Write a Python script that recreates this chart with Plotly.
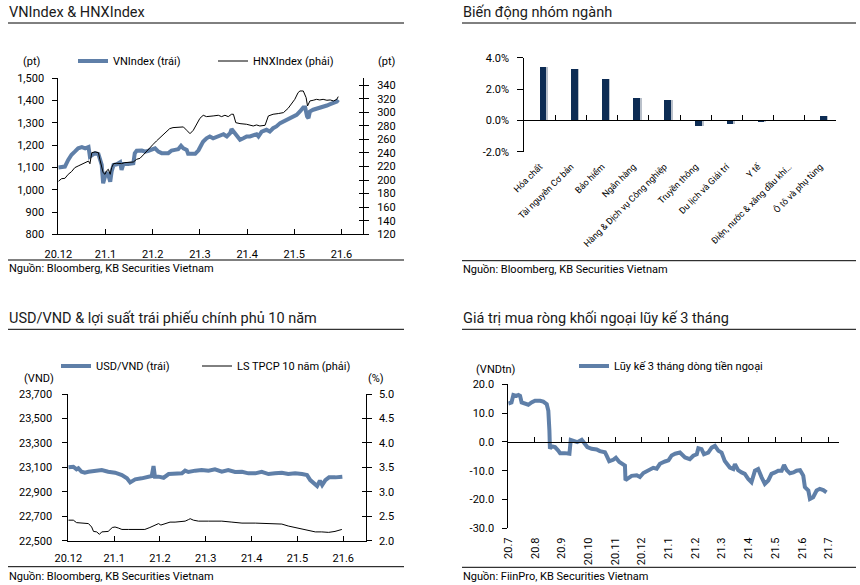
import plotly.graph_objects as go

W, H = 860, 585
FONT = "Roboto"
BLUE = "#5f7fa8"
NAVY = "#0d2c54"

# ---------------- Panel 1: VNIndex & HNXIndex ----------------
p1_month_labels = ["20.12", "21.1", "21.2", "21.3", "21.4", "21.5", "21.6"]
vn_m = [0.00, 0.14, 0.21, 0.28, 0.35, 0.42, 0.50, 0.57, 0.64, 0.67, 0.78, 0.85, 0.92, 0.95,
        0.99, 1.02, 1.06, 1.10, 1.13, 1.17, 1.24, 1.31, 1.34, 1.38, 1.48, 1.59, 1.62, 1.66,
        1.77, 1.84, 1.91, 1.98, 2.05, 2.12, 2.19, 2.33, 2.40, 2.47, 2.54, 2.60, 2.65, 2.72,
        2.75, 2.90, 2.97, 3.04, 3.07, 3.14, 3.21, 3.28, 3.36, 3.43, 3.50, 3.57, 3.64, 3.67,
        3.71, 3.78, 3.85, 3.92, 3.99, 4.06, 4.13, 4.20, 4.24, 4.31, 4.41, 4.48, 4.55, 4.62,
        4.70, 4.77, 4.84, 4.91, 4.98, 5.05, 5.12, 5.19, 5.23, 5.27, 5.30, 5.33, 5.40, 5.47,
        5.54, 5.61, 5.69, 5.76, 5.83, 5.90, 5.93]
vn_val = [1100, 1104, 1134, 1157, 1171, 1186, 1191, 1186, 1192, 1149, 1164, 1160, 1111, 1029,
          1059, 1078, 1066, 1036, 1082, 1111, 1114, 1123, 1089, 1116, 1116, 1119, 1164, 1175,
          1176, 1171, 1175, 1179, 1186, 1171, 1164, 1164, 1176, 1179, 1182, 1197, 1186, 1179,
          1161, 1161, 1177, 1205, 1216, 1231, 1239, 1231, 1239, 1246, 1249, 1239, 1254, 1272,
          1261, 1246, 1224, 1231, 1239, 1239, 1243, 1249, 1239, 1261, 1269, 1261, 1276, 1284,
          1299, 1306, 1314, 1321, 1329, 1336, 1351, 1369, 1369, 1329, 1321, 1351, 1359, 1363,
          1366, 1374, 1378, 1384, 1389, 1396, 1404]
hnx_m = [0.00, 0.07, 0.14, 0.21, 0.28, 0.35, 0.42, 0.50, 0.57, 0.64, 0.67, 0.71, 0.78, 0.85,
         0.88, 0.92, 0.95, 0.99, 1.02, 1.06, 1.10, 1.13, 1.17, 1.24, 1.27, 1.34, 1.41, 1.48,
         1.59, 1.66, 1.73, 1.80, 1.87, 1.94, 2.01, 2.08, 2.15, 2.22, 2.29, 2.36, 2.43, 2.54,
         2.65, 2.72, 2.79, 2.86, 2.93, 3.00, 3.07, 3.14, 3.28, 3.39, 3.46, 3.53, 3.60, 3.67,
         3.71, 3.76, 3.85, 3.99, 4.13, 4.20, 4.27, 4.38, 4.45, 4.55, 4.66, 4.77, 4.87, 4.94,
         5.01, 5.08, 5.12, 5.19, 5.25, 5.28, 5.33, 5.40, 5.47, 5.54, 5.61, 5.69, 5.76, 5.83,
         5.90, 5.93]
hnx_val = [198, 202, 202.5, 208.4, 212.4, 218.3, 220.7, 223.2, 224.7, 228, 224, 240.4, 241.4, 240.4,
           230.6, 220.7, 210.9, 208.4, 213.4, 215.8, 208.4, 218.3, 224.2, 224.7, 224.7, 224.2, 225.7, 225.7,
           226.6, 230.6, 232, 237, 242.8, 247.8, 252.7, 257.6, 262.5, 267.4, 272.3, 275.8, 277.3, 277.3,
           278.3, 273.4, 268.4, 273.4, 282.2, 291, 295.5, 293.5, 294.5, 295.5, 293.5, 295.5, 293.5, 297,
           297, 284.6, 283.2, 282.2, 279.7, 281.2, 279.7, 280.7, 294.5, 297, 298, 299.4, 305.8, 311.7,
           319, 328.9, 331.3, 331.3, 321.5, 309.2, 316.6, 317.6, 319, 318.1, 319, 317.6, 318.1, 316.6,
           319, 323]

# ---------------- Panel 2: sector change ----------------
sectors = ["Hóa chất", "Tài nguyên Cơ bản", "Bảo hiểm", "Ngân hàng", "Hàng & Dịch vụ Công nghiệp",
           "Truyền thông", "Du lịch và Giải trí", "Y tế", "Điện, nước & xăng dầu khí…", "Ô tô và phụ tùng"]
sector_chg = [3.41, 3.28, 2.68, 1.43, 1.34, -0.34, -0.21, -0.08, -0.02, 0.32]
p2_tickvals = [-2, 0, 2, 4]
p2_ticktext = ["-2.0%", "0.0%", "2.0%", "4.0%"]

# ---------------- Panel 3: USD/VND & 10Y bond yield ----------------
p3_month_labels = ["20.12", "21.1", "21.2", "21.3", "21.4", "21.5", "21.6"]
usd_m = [0.00, 0.11, 0.18, 0.22, 0.29, 0.36, 0.44, 0.58, 0.73, 0.87, 1.02, 1.17, 1.28, 1.35,
         1.46, 1.60, 1.75, 1.82, 1.86, 1.89, 1.97, 2.08, 2.19, 2.33, 2.48, 2.55, 2.62, 2.77,
         2.91, 3.06, 3.20, 3.35, 3.49, 3.64, 3.79, 3.93, 4.08, 4.22, 4.37, 4.51, 4.66, 4.80,
         4.95, 5.10, 5.21, 5.28, 5.35, 5.43, 5.49, 5.54, 5.61, 5.69, 5.83, 5.98]
usd_val = [23100, 23105, 23084, 23092, 23064, 23056, 23064, 23070, 23078, 23064, 23056, 23037, 23010, 22977,
           23002, 23010, 23024, 23029, 23111, 23024, 23024, 23015, 23045, 23045, 23051, 23073, 23062, 23073,
           23078, 23073, 23084, 23064, 23078, 23062, 23064, 23051, 23051, 23064, 23045, 23051, 23056, 23045,
           23051, 23045, 23037, 22996, 22969, 22947, 22991, 22955, 22996, 23018, 23018, 23024]
bond_m = [0.00, 0.11, 0.18, 0.36, 0.44, 0.51, 0.55, 0.62, 0.68, 0.73, 0.87, 0.96, 1.02, 1.09,
          1.17, 1.31, 1.46, 1.67, 1.78, 1.89, 1.97, 2.02, 2.11, 2.22, 2.33, 2.44, 2.55, 2.62,
          2.66, 2.73, 2.84, 3.06, 3.35, 3.57, 3.79, 4.08, 4.37, 4.66, 4.80, 4.95, 5.10, 5.24,
          5.39, 5.53, 5.68, 5.82, 5.97]
bond_val = [2.42, 2.42, 2.37, 2.36, 2.35, 2.28, 2.19, 2.18, 2.13, 2.18, 2.19, 2.27, 2.28, 2.26,
            2.23, 2.23, 2.23, 2.23, 2.27, 2.32, 2.35, 2.32, 2.35, 2.38, 2.38, 2.39, 2.40, 2.43,
            2.45, 2.42, 2.40, 2.40, 2.40, 2.38, 2.36, 2.36, 2.35, 2.34, 2.30, 2.27, 2.23, 2.21,
            2.18, 2.18, 2.17, 2.19, 2.23]

# ---------------- Panel 4: foreign net buying, 3M cumulative ----------------
p4_month_labels = ["20.7", "20.8", "20.9", "20.10", "20.11", "20.12", "21.1", "21.2", "21.3",
                   "21.4", "21.5", "21.6", "21.7"]
flow_m = [0.00, 0.12, 0.19, 0.31, 0.38, 0.44, 0.50, 0.63, 0.75, 0.87, 1.00, 1.19, 1.31, 1.44,
          1.50, 1.54, 1.56, 1.62, 1.75, 1.87, 1.94, 2.12, 2.29, 2.34, 2.43, 2.58, 2.75, 2.87,
          2.96, 3.12, 3.31, 3.43, 3.62, 3.68, 3.78, 3.93, 4.03, 4.16, 4.24, 4.37, 4.39, 4.49,
          4.62, 4.81, 4.93, 5.06, 5.25, 5.43, 5.56, 5.68, 5.87, 6.00, 6.12, 6.25, 6.43, 6.62,
          6.80, 6.93, 7.06, 7.12, 7.24, 7.33, 7.49, 7.62, 7.74, 7.87, 7.99, 8.11, 8.30, 8.43,
          8.49, 8.61, 8.74, 8.86, 8.99, 9.11, 9.24, 9.36, 9.49, 9.61, 9.74, 9.86, 9.99, 10.11,
          10.24, 10.33, 10.43, 10.55, 10.68, 10.80, 10.93, 11.05, 11.11, 11.24, 11.30, 11.42,
          11.55, 11.67, 11.80, 11.92]
flow_val = [13.3, 13.7, 16.3, 16.0, 16.3, 16.0, 13.7, 13.3, 12.9, 13.7, 14.3, 14.3, 14.0, 13.1,
            10.8, 3.9, -2.4, -1.5, -1.8, -3.0, -3.9, -3.9, -4.1, 0.7, 0.5, -0.1, 0.7, -0.5,
            -1.8, -2.4, -2.6, -3.2, -3.6, -4.7, -6.7, -6.2, -5.5, -7.0, -7.6, -8.2, -13.3, -12.8,
            -11.8, -11.6, -12.2, -10.8, -9.9, -9.0, -9.3, -7.6, -6.8, -6.4, -4.7, -4.1, -3.7, -5.4,
            -6.0, -4.8, -4.3, -2.2, -2.5, -4.3, -3.7, -2.0, -1.4, -3.1, -3.7, -6.6, -8.9, -9.4,
            -7.7, -9.8, -10.6, -11.1, -12.9, -14.0, -10.0, -9.4, -12.3, -14.6, -13.4, -11.1, -10.6, -10.0,
            -10.0, -8.0, -9.8, -10.9, -10.6, -10.0, -9.8, -11.7, -15.7, -16.9, -19.8, -19.2,
            -16.9, -16.3, -16.7, -17.5]
p4_tickvals = [-30, -20, -10, 0, 10, 20]
p4_ticktext = ["-30.0", "-20.0", "-10.0", "0.0", "10.0", "20.0"]


def fx(px):
    return px / W


def fy(py):
    return 1 - py / H


tickfont = dict(family=FONT, size=11, color="#000000")
axis_common = dict(showgrid=False, zeroline=False, showline=True, linecolor="#000000",
                   linewidth=1, tickcolor="#000000", tickwidth=1, tickfont=tickfont,
                   automargin=False)

fig = go.Figure()

# Panel 1 traces
fig.add_trace(go.Scatter(x=vn_m, y=vn_val, mode="lines", name="VNIndex (trái)",
                         line=dict(color=BLUE, width=4), xaxis="x", yaxis="y", legend="legend"))
fig.add_trace(go.Scatter(x=hnx_m, y=hnx_val, mode="lines", name="HNXIndex (phải)",
                         line=dict(color="#000000", width=1), xaxis="x", yaxis="y2", legend="legend2"))
fig.add_trace(go.Scatter(x=[], y=[], mode="lines", xaxis="x", yaxis="y7", showlegend=False))

# Panel 2 traces (shadow underneath on x2, dark bars on overlay x3)
idx = list(range(len(sectors)))
fig.add_trace(go.Bar(x=idx, y=sector_chg, marker=dict(color="#b9c0ca", line=dict(width=0)),
                     width=0.215, offset=0.06, xaxis="x2", yaxis="y3", showlegend=False,
                     hoverinfo="skip"))
fig.add_trace(go.Bar(x=idx, y=sector_chg, marker=dict(color=NAVY, line=dict(width=0)),
                     width=0.215, offset=0.005, xaxis="x3", yaxis="y3", showlegend=False))

# Panel 3 traces
fig.add_trace(go.Scatter(x=usd_m, y=usd_val, mode="lines", name="USD/VND (trái)",
                         line=dict(color=BLUE, width=4), xaxis="x4", yaxis="y4", legend="legend3"))
fig.add_trace(go.Scatter(x=bond_m, y=bond_val, mode="lines", name="LS TPCP 10 năm (phải)",
                         line=dict(color="#000000", width=1), xaxis="x4", yaxis="y5", legend="legend4"))
fig.add_trace(go.Scatter(x=[], y=[], mode="lines", xaxis="x4", yaxis="y8", showlegend=False))

# Panel 4 traces
fig.add_trace(go.Scatter(x=flow_m, y=flow_val, mode="lines", name="Lũy kế 3 tháng dòng tiền ngoại",
                         line=dict(color=BLUE, width=4), xaxis="x5", yaxis="y6", legend="legend5"))
fig.add_trace(go.Scatter(x=[], y=[], mode="lines", xaxis="x6", yaxis="y6", showlegend=False))

p1_xr = [0, 6.455]
p1_yr2 = [120, 350]
p2_xr = [-0.5, 9.5]
p2_yr = [-2, 4]
p3_xr = [0, 6.49]
p3_yr2 = [2.0, 5.0]
p4_xr = [0, 12.4]
p4_yr = [-30, 20]

p2_dom = [fy(151.7), fy(57.7)]
p4_dom = [fy(528.3), fy(384.3)]
p2_zero = p2_dom[0] + (0 - p2_yr[0]) / (p2_yr[1] - p2_yr[0]) * (p2_dom[1] - p2_dom[0])
p4_zero = p4_dom[0] + (0 - p4_yr[0]) / (p4_yr[1] - p4_yr[0]) * (p4_dom[1] - p4_dom[0])

fig.update_layout(
    width=W, height=H, margin=dict(l=0, r=0, t=0, b=0, autoexpand=False),
    paper_bgcolor="white", plot_bgcolor="white",
    font=dict(family=FONT, size=11, color="#000000"),
    bargap=0,
    # Panel 1
    xaxis=dict(axis_common, domain=[fx(58.3), fx(363)], anchor="y", range=p1_xr,
               tickvals=list(range(len(p1_month_labels))), ticktext=p1_month_labels,
               ticks="inside", ticklen=5, ticklabelstandoff=9),
    yaxis=dict(axis_common, domain=[fy(234.3), fy(78.3)], anchor="x", range=[800, 1500],
               dtick=100, tickformat=",", ticks="outside", ticklen=5, ticklabelstandoff=6),
    yaxis2=dict(axis_common, overlaying="y", side="right", anchor="x", range=p1_yr2,
                tick0=120, dtick=20, ticks="outside", ticklen=5, ticklabelstandoff=6),
    yaxis7=dict(axis_common, overlaying="y", side="right", anchor="x", range=p1_yr2,
                tick0=120, dtick=20, ticks="inside", ticklen=4, showticklabels=False),
    # Panel 2
    xaxis2=dict(axis_common, domain=[fx(524.3), fx(835.7)], anchor="y3", range=p2_xr,
                showline=False, tickvals=idx, ticktext=sectors, tickangle=-45, ticks="",
                tickfont=dict(family=FONT, size=9, color="#000000"), ticklabelstandoff=7),
    xaxis3=dict(axis_common, overlaying="x2", anchor="free", position=p2_zero, range=p2_xr,
                tickvals=[i + 0.5 for i in idx], ticks="inside", ticklen=5, showticklabels=False),
    yaxis3=dict(axis_common, domain=p2_dom, anchor="x2", range=p2_yr,
                tickvals=p2_tickvals, ticktext=p2_ticktext, ticks="outside", ticklen=6,
                ticklabelstandoff=6),
    # Panel 3
    xaxis4=dict(axis_common, domain=[fx(68.3), fx(365.7)], anchor="y4", range=p3_xr,
                tickvals=list(range(len(p3_month_labels))), ticktext=p3_month_labels,
                ticks="inside", ticklen=5, ticklabelstandoff=7),
    yaxis4=dict(axis_common, domain=[fy(540.7), fy(394)], anchor="x4", range=[22500, 23700],
                tick0=22500, dtick=200, tickformat=",", ticks="outside", ticklen=5,
                ticklabelstandoff=8),
    yaxis5=dict(axis_common, overlaying="y4", side="right", anchor="x4", range=p3_yr2,
                dtick=0.5, tickformat=".1f", ticks="outside", ticklen=5, ticklabelstandoff=5),
    yaxis8=dict(axis_common, overlaying="y4", side="right", anchor="x4", range=p3_yr2,
                dtick=0.5, ticks="inside", ticklen=4, showticklabels=False),
    # Panel 4
    xaxis5=dict(axis_common, domain=[fx(508.3), fx(839.3)], anchor="y6", range=p4_xr,
                showline=False, tickvals=list(range(len(p4_month_labels))),
                ticktext=p4_month_labels, tickangle=-90, ticks="", ticklabelstandoff=6),
    xaxis6=dict(axis_common, overlaying="x5", anchor="free", position=p4_zero, range=p4_xr,
                tickvals=list(range(1, len(p4_month_labels))), ticks="inside", ticklen=5,
                showticklabels=False),
    yaxis6=dict(axis_common, domain=p4_dom, anchor="x5", range=p4_yr,
                tickvals=p4_tickvals, ticktext=p4_ticktext, ticks="outside", ticklen=5,
                ticklabelstandoff=6),
)

legend_common = dict(orientation="h", yanchor="middle", xanchor="left", bgcolor="rgba(0,0,0,0)",
                     borderwidth=0, font=dict(family=FONT, size=11, color="#000000"),
                     itemwidth=30)
fig.update_layout(
    legend=dict(legend_common, x=fx(73), y=fy(61)),
    legend2=dict(legend_common, x=fx(213), y=fy(61)),
    legend3=dict(legend_common, x=fx(56), y=fy(366)),
    legend4=dict(legend_common, x=fx(197), y=fy(366)),
    legend5=dict(legend_common, x=fx(574), y=fy(366)),
)

annots = []


def text(px, py, s, size=11, anchor="left", color="#000000"):
    annots.append(dict(x=fx(px), y=fy(py), xref="paper", yref="paper", text=s, showarrow=False,
                       xanchor=anchor, yanchor="middle",
                       font=dict(family=FONT, size=size, color=color)))


# titles
text(7, 12, "VNIndex &amp; HNXIndex", size=14.5, color="#1a1a1a")
text(461, 12, "Biến động nhóm ngành", size=14.5, color="#1a1a1a")
text(7, 319, "USD/VND &amp; lợi suất trái phiếu chính phủ 10 năm", size=14.5, color="#1a1a1a")
text(461, 319, "Giá trị mua ròng khối ngoại lũy kế 3 tháng", size=14.5, color="#1a1a1a")
# sources
text(7, 269, "Nguồn: Bloomberg, KB Securities Vietnam")
text(461, 269.5, "Nguồn: Bloomberg, KB Securities Vietnam")
text(7, 576, "Nguồn: Bloomberg, KB Securities Vietnam")
text(461, 576, "Nguồn: FiinPro, KB Securities Vietnam")
# units
text(21, 62, "(pt)")
text(376, 62, "(pt)")
text(22, 378, "(VND)")
text(366, 378, "(%)")
text(474, 369, "(VNDtn)")

shapes = []
for (x0, x1, y) in [(8, 404, 23), (462, 856, 23), (8, 404, 329.3), (462, 856, 329.3),
                    (8, 404, 260), (462, 856, 260.7), (8, 404, 566.7), (462, 856, 567.3)]:
    shapes.append(dict(type="line", xref="paper", yref="paper", x0=fx(x0), x1=fx(x1),
                       y0=fy(y), y1=fy(y), line=dict(color="#000000", width=1)))

fig.update_layout(annotations=annots, shapes=shapes)

fig.write_html("out.html", config={"displayModeBar": False},
               post_script="document.body.style.margin='0px';")
